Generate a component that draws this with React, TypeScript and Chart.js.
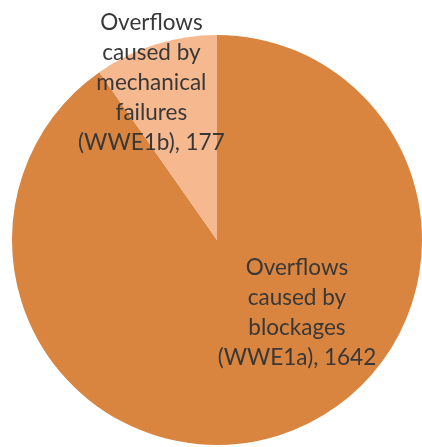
import React, { useEffect, useRef } from "react";
import { Chart, registerables } from "chart.js";

Chart.register(...registerables);

const categories = [
  "Overflows caused by blockages (WWE1a)",
  "Overflows caused by mechanical failures (WWE1b)",
];
const values = [1642, 177];
const labelLines = [
  ["Overflows", "caused by", "blockages", "(WWE1a), 1642"],
  ["Overflows", "caused by", "mechanical", "failures", "(WWE1b), 177"],
];
const colors = ["#D9843F", "#F5B88F"];

// label anchor (in radius units, relative to pie centre)
const labelAnchors = [
  { x: 0.39, y: 0.355 },
  { x: -0.32, y: -0.765 },
];

const labelPlugin = {
  id: "sliceLabels",
  afterDatasetsDraw(chart: any) {
    const meta = chart.getDatasetMeta(0);
    const ctx = chart.ctx;
    ctx.save();
    ctx.font = "22.5px Lato, 'Open Sans', sans-serif";
    ctx.fillStyle = "#383838";
    ctx.textAlign = "center";
    ctx.textBaseline = "middle";
    const lineH = 30;
    meta.data.forEach((arc: any, i: number) => {
      const { x, y, outerRadius } = arc.getProps(["x", "y", "outerRadius"], true);
      const lines = labelLines[i];
      const cx = x + labelAnchors[i].x * outerRadius;
      const cy = y + labelAnchors[i].y * outerRadius;
      const startY = cy - ((lines.length - 1) * lineH) / 2;
      lines.forEach((t, j) => ctx.fillText(t, cx, startY + j * lineH));
    });
    ctx.restore();
  },
};

export default function App() {
  const ref = useRef<HTMLCanvasElement>(null);
  useEffect(() => {
    document.body.style.margin = "0";
    const chart = new Chart(ref.current!, {
      type: "pie",
      data: {
        labels: categories,
        datasets: [
          {
            data: values,
            backgroundColor: colors,
            borderWidth: 0,
          },
        ],
      },
      options: {
        responsive: true,
        maintainAspectRatio: false,
        animation: false,
        layout: { padding: { left: 12, right: 0, top: 34, bottom: 1 } },
        plugins: {
          legend: { display: false },
          tooltip: { enabled: false },
        },
      },
      plugins: [labelPlugin],
    });
    return () => chart.destroy();
  }, []);
  return (
    <div style={{ position: "relative", width: 422, height: 447, background: "#fff" }}>
      <canvas ref={ref} />
    </div>
  );
}
